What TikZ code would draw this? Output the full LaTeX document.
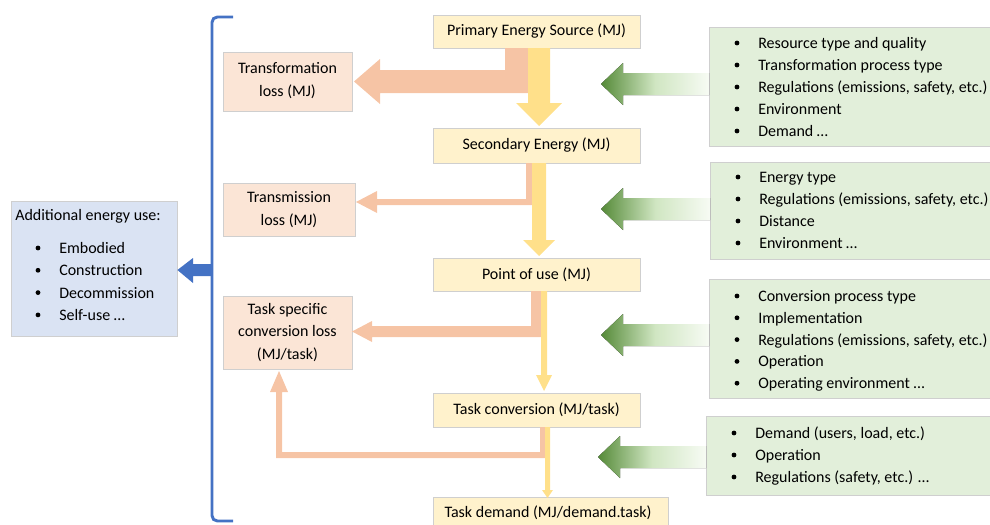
\documentclass[tikz,border=0pt]{standalone}
\usepackage{fontspec}
\setmainfont{Carlito}
\usetikzlibrary{fit}
\definecolor{yfill}{HTML}{FFF2CC}
\definecolor{yarrow}{HTML}{FFE08A}
\definecolor{pfill}{HTML}{FBE5D6}
\definecolor{parrow}{HTML}{F6C4A5}
\definecolor{gfill}{HTML}{E2EFDA}
\definecolor{gdark}{HTML}{558A38}
\definecolor{gmid}{HTML}{D0E6C2}
\definecolor{glight}{HTML}{F7FBF4}
\definecolor{bfill}{HTML}{DAE3F3}
\definecolor{bline}{HTML}{4472C4}
\definecolor{edge}{HTML}{CFCFCF}
\tikzset{
  box/.style={inner sep=0pt, draw=edge, line width=0.6pt},
  ybox/.style={box, fill=yfill},
  pbox/.style={box, fill=pfill},
  gbox/.style={box, fill=gfill},
  bbox/.style={box, fill=bfill},
  txt/.style={inner sep=0pt, align=center, font=\fontsize{12}{17}\selectfont},
  item/.style={anchor=west, inner sep=0pt, yshift=-1pt, font=\fontsize{12}{14}\selectfont, text height=8.6pt, text depth=2.4pt},
  bul/.style={fill=black},
  yarr/.style={fill=yarrow},
  parr/.style={fill=parrow},
  garr/.style={left color=gdark, right color=glight, middle color=gmid},
}
\begin{document}
\begin{tikzpicture}[x=0.75pt,y=-0.75pt]
\useasboundingbox (0,0) rectangle (990,525);
\clip (0,0) rectangle (990,525);

% boxes
\node[ybox, fit={(433,15)(640,48)}] (prim) {};
\node[txt] (primt) at (prim.center) {Primary Energy Source (MJ)};
\node[ybox, fit={(433,128)(640,163)}] (sec) {};
\node[txt] (sect) at (sec.center) {Secondary Energy (MJ)};
\node[ybox, fit={(433,258)(640,291)}] (pou) {};
\node[txt] (pout) at (pou.center) {Point of use (MJ)};
\node[ybox, fit={(433,393)(640,427)}] (tconv) {};
\node[txt] (tconvt) at (tconv.center) {Task conversion (MJ/task)};
\node[ybox, fit={(433,497)(668,535)}] (tdem) {};
\node[txt] (tdemt) at (548,513) {Task demand (MJ/demand.task)};

\node[pbox, fit={(223,52)(352,111)}] (tloss) {};
\node[txt] (tlosst) at ([yshift=0.5pt]tloss.center) {Transformation\\loss (MJ)};
\node[pbox, fit={(223,183)(355,236)}] (mloss) {};
\node[txt] (mlosst) at (mloss.center) {Transmission\\loss (MJ)};
\node[pbox, fit={(223,296)(352,369)}] (closs) {};
\node[txt] (closst) at (closs.center) {Task specific\\conversion loss\\(MJ/task)};

\node[bbox, fit={(11,201)(177,336)}] (add) {};
\node[item] (addt) at (15,215) {Additional energy use:};
\foreach \t [count=\i] in {Embodied, Construction, Decommission, Self-use \ldots}{
  \fill[bul] (38,{248+22.3*(\i-1)}) circle (2.4);
  \node[item] (add-\i) at (59,{248+22.3*(\i-1)}) {\t};
}

\node[gbox, fit={(709,27)(1000,146)}] (g1) {};
\foreach \t [count=\i] in {Resource type and quality, Transformation process type, {Regulations (emissions, safety, etc.)}, Environment, Demand \ldots}{
  \fill[bul] (737,{43+22*(\i-1)}) circle (2.4);
  \node[item] (g1-\i) at (758,{43+22*(\i-1)}) {\t};
}
\node[gbox, fit={(710,162)(1000,259)}] (g2) {};
\foreach \t [count=\i] in {Energy type, {Regulations (emissions, safety, etc.)}, Distance, Environment \ldots}{
  \fill[bul] (738,{177+22*(\i-1)}) circle (2.4);
  \node[item] (g2-\i) at (759,{177+22*(\i-1)}) {\t};
}
\node[gbox, fit={(709,279)(1000,398)}] (g3) {};
\foreach \t [count=\i] in {Conversion process type, Implementation, {Regulations (emissions, safety, etc.)}, Operation, Operating environment \ldots}{
  \fill[bul] (737,{296+21.8*(\i-1)}) circle (2.4);
  \node[item] (g3-\i) at (758,{296+21.8*(\i-1)}) {\t};
}
\node[gbox, fit={(706,416)(1000,495)}] (g4) {};
\foreach \t [count=\i] in {{Demand (users, load, etc.)}, Operation, {Regulations (safety, etc.) \ldots}}{
  \fill[bul] (734,{433+22*(\i-1)}) circle (2.4);
  \node[item] (g4-\i) at (755,{433+22*(\i-1)}) {\t};
}

% loss arrows (orange)
\fill[parr] (505,48) -- (528,48) -- (528,93) -- (380,93) -- (380,104) -- (354,81.5) -- (380,59) -- (380,70) -- (505,70) -- cycle;
\fill[parr] (526,163) -- (532,163) -- (532,205) -- (377,205) -- (377,213) -- (356,202) -- (377,191) -- (377,199) -- (526,199) -- cycle;
\fill[parr] (531,291) -- (541,291) -- (541,337) -- (372,337) -- (372,342) -- (352,331.5) -- (372,321) -- (372,326) -- (531,326) -- cycle;
\fill[parr] (540,427) -- (545,427) -- (545,458) -- (276,458) -- (276,392) -- (270,392) -- (279,371) -- (288,392) -- (282,392) -- (282,452) -- (540,452) -- cycle;

% flow arrows (yellow)
\fill[yarr] (528,48) -- (550,48) -- (550,103) -- (562,103) -- (539,126) -- (516,103) -- (528,103) -- cycle;
\fill[yarr] (532,163) -- (546,163) -- (546,240) -- (555,240) -- (539,256) -- (523,240) -- (532,240) -- cycle;
\fill[yarr] (541,291) -- (547,291) -- (547,375) -- (552,375) -- (544,391) -- (536,375) -- (541,375) -- cycle;
\fill[yarr] (545,427) -- (550,427) -- (550,490) -- (553,490) -- (547.5,498) -- (542,490) -- (545,490) -- cycle;

% influence arrows (green)
\fill[garr] (709,73) -- (623,73) -- (623,63) -- (601,84) -- (623,105) -- (623,95) -- (709,95) -- cycle;
\fill[garr] (710,198) -- (623,198) -- (623,188) -- (601,209) -- (623,230) -- (623,220) -- (710,220) -- cycle;
\fill[garr] (709,324) -- (623,324) -- (623,314) -- (601,335) -- (623,356) -- (623,346) -- (709,346) -- cycle;
\fill[garr] (706,446) -- (620,446) -- (620,436) -- (598,457) -- (620,478) -- (620,468) -- (706,468) -- cycle;

% bracket and blue arrow
\draw[bline, line width=2.2pt, rounded corners=4pt] (233,17) -- (212,17) -- (212,521) -- (233,521);
\coordinate (brmid) at (212,270);
\fill[bline] (brmid) ++(0,-6) -- (193,264) -- (193,258) -- (add.east |- brmid) -- (193,283) -- (193,276) -- (212,276) -- cycle;
\end{tikzpicture}
\end{document}
